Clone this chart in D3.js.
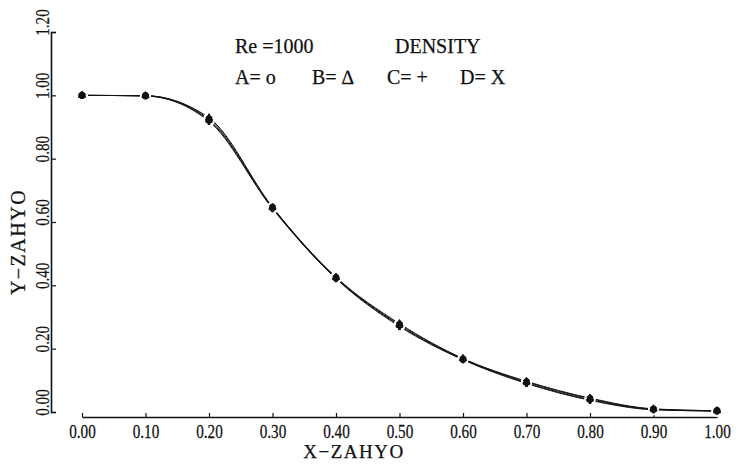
<!DOCTYPE html>
<html>
<head>
<meta charset="utf-8">
<script src="https://cdn.jsdelivr.net/npm/d3@7"></script>
<style>
  body { margin: 0; background: #fff; }
  text { font-family: "Liberation Serif", "Times New Roman", serif; fill: #111; stroke: #111; stroke-width: 0.25; }
</style>
</head>
<body>
<svg id="chart" width="742" height="464"></svg>
<script>
// Density profile along X for four cases (Re = 1000)
const xValues = [0.0, 0.1, 0.2, 0.3, 0.4, 0.5, 0.6, 0.7, 0.8, 0.9, 1.0];
const seriesA = [1.000, 0.998, 0.921, 0.644, 0.423, 0.273, 0.166, 0.092, 0.039, 0.008, 0.003];
const seriesB = [1.000, 0.999, 0.929, 0.647, 0.426, 0.279, 0.169, 0.097, 0.044, 0.010, 0.004];
const seriesC = [1.000, 0.998, 0.918, 0.642, 0.421, 0.270, 0.165, 0.090, 0.037, 0.007, 0.003];
const seriesD = [1.000, 0.999, 0.925, 0.646, 0.424, 0.276, 0.167, 0.095, 0.042, 0.009, 0.004];
const seriesNames = ["A", "B", "C", "D"];

const xTicks = [0.0, 0.1, 0.2, 0.3, 0.4, 0.5, 0.6, 0.7, 0.8, 0.9, 1.0];
const yTicks = [0.0, 0.2, 0.4, 0.6, 0.8, 1.0, 1.2];

const titleText = "Re =1000";
const quantityText = "DENSITY";
const legendItems = ["A= o", "B= \u2206", "C= +", "D= X"];
const xTitle = "X\u2212ZAHYO";
const yTitle = "Y\u2212ZAHYO";

const svg = d3.select("#chart");
const x = d3.scaleLinear().domain([0, 1]).range([82, 717]);
const y = d3.scaleLinear().domain([0, 1.2]).range([412, 32]);
const fmt = d3.format(".2f");

// X axis: ticks point up into the plot, labels below
const gx = svg.append("g").attr("transform", "translate(0,417)")
  .call(d3.axisBottom(x).tickValues(xTicks).tickFormat(fmt)
    .tickSizeInner(-4).tickSizeOuter(0));
gx.select(".domain").attr("stroke", "#111").attr("stroke-width", 1.6);
gx.selectAll(".tick line").attr("stroke", "#111").attr("stroke-width", 1.2);
gx.selectAll(".tick text")
  .attr("y", 21).attr("dy", 0)
  .attr("font-size", 19)
  .attr("transform", "scale(0.8,1)")
  .attr("font-family", "Liberation Serif")
  .attr("fill", "#111");

// Y axis: ticks point right, labels rotated on the left
const gy = svg.append("g").attr("transform", "translate(51,0)")
  .call(d3.axisLeft(y).tickValues(yTicks).tickFormat(fmt)
    .tickSizeInner(-5).tickSizeOuter(-5));
gy.select(".domain").attr("stroke", "#111").attr("stroke-width", 1.6);
gy.selectAll(".tick line").attr("stroke", "#111").attr("stroke-width", 1.2);
gy.selectAll(".tick text")
  .attr("x", 0).attr("dy", 0)
  .attr("text-anchor", "middle")
  .attr("font-size", 19)
  .attr("font-family", "Liberation Serif")
  .attr("fill", "#111")
  .attr("transform", "translate(-2,-10) rotate(-90) scale(0.8,1)");

// Axis titles
svg.append("text").attr("x", 354).attr("y", 458)
  .attr("text-anchor", "middle").attr("font-size", 19)
  .attr("letter-spacing", 1.5).text(xTitle);
svg.append("text")
  .attr("transform", "translate(25,242) rotate(-90)")
  .attr("text-anchor", "middle").attr("font-size", 20)
  .attr("letter-spacing", 1.5).text(yTitle);

// Legend block
svg.append("text").attr("x", 235).attr("y", 53).attr("font-size", 20).text(titleText);
svg.append("text").attr("x", 395).attr("y", 53).attr("font-size", 20).text(quantityText);
const legendX = [235, 312, 387, 460];
svg.selectAll("text.leg").data(legendItems).join("text")
  .attr("class", "leg")
  .attr("x", (d, i) => legendX[i]).attr("y", 84)
  .attr("font-size", 20).text(d => d);

// Curves
const allSeries = [seriesA, seriesB, seriesC, seriesD];
const line = d3.line()
  .x((d, i) => x(xValues[i]))
  .y(d => y(d))
  .curve(d3.curveMonotoneX);

svg.append("g").selectAll("path").data(allSeries).join("path")
  .attr("d", line)
  .attr("fill", "none")
  .attr("stroke", "#111")
  .attr("stroke-width", 1.0);

// White gaps around plotted points, then the markers
const points = allSeries.flatMap((s, k) => s.map((v, i) => ({ k, xv: xValues[i], yv: v })));
svg.append("g").selectAll("circle").data(points).join("circle")
  .attr("cx", d => x(d.xv)).attr("cy", d => y(d.yv))
  .attr("r", 5.5).attr("fill", "#fff");

const symbolTypes = [d3.symbolCircle, d3.symbolTriangle, d3.symbolCross, d3.symbolCross];
const symbolRot = [0, 0, 0, 45];
svg.append("g").selectAll("path").data(points).join("path")
  .attr("transform", d => `translate(${x(d.xv)},${y(d.yv)}) rotate(${symbolRot[d.k]})`)
  .attr("d", d => d3.symbol(symbolTypes[d.k], 22)())
  .attr("fill", "#111")
  .attr("stroke", "#111")
  .attr("stroke-width", 1);
</script>
</body>
</html>
